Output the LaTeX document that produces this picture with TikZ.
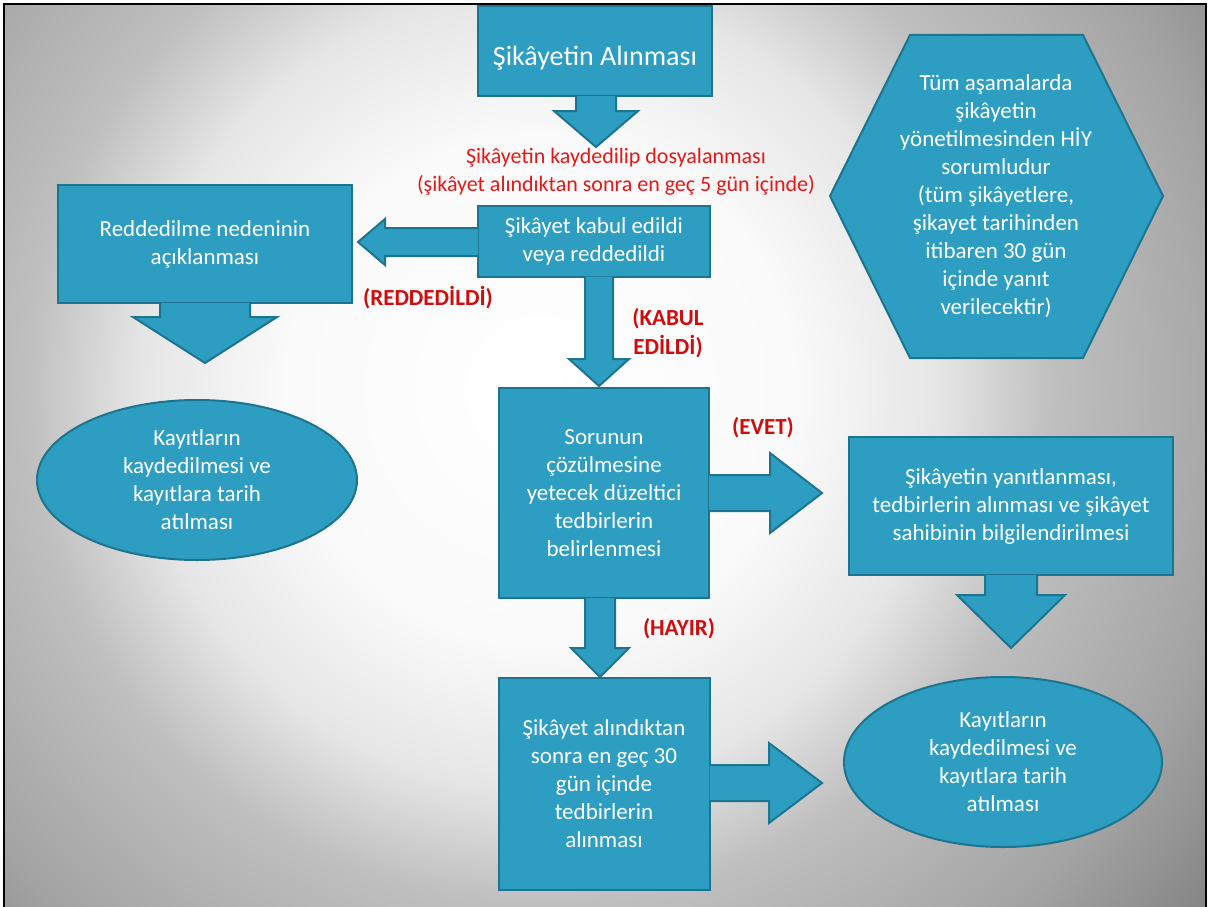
\documentclass[tikz,border=0pt]{standalone}
\usepackage{fontspec}
\setmainfont{Carlito}
\usetikzlibrary{shapes,calc}
\definecolor{shapefill}{RGB}{45,158,193}
\definecolor{shapeline}{RGB}{28,116,142}
\definecolor{notered}{RGB}{230,24,24}
\definecolor{choicered}{RGB}{208,12,12}
\tikzstyle{box} = [rectangle, draw=shapeline, fill=shapefill, line width=2pt, text=white, align=center, font=\fontsize{23}{28}\selectfont]
\tikzstyle{round} = [ellipse, draw=shapeline, fill=shapefill, line width=2pt, text=white, align=center, inner sep=0pt, font=\fontsize{23}{28}\selectfont]
\tikzstyle{line} = [draw=shapeline, fill=shapefill, line width=2pt]
\tikzstyle{note} = [text=notered, align=center, font=\fontsize{22}{28}\selectfont]
\tikzstyle{choice} = [text=choicered, align=center, font=\bfseries\fontsize{23}{29}\selectfont]
\pgfdeclarelayer{background}
\pgfsetlayers{background,main}
\pgfdeclareradialshading{slide}{\pgfpointorigin}{color(0bp)=(white); color(8bp)=(black!2); color(12.5bp)=(black!10); color(16bp)=(black!25); color(22bp)=(black!36); color(26bp)=(black!47); color(50bp)=(black!47)}

\begin{document}
\begin{tikzpicture}[x=1pt, y=-1pt]
	\useasboundingbox (0,0) rectangle (1210,907);

	\node [box, minimum width=234pt, minimum height=90pt, font=\fontsize{28}{34}\selectfont] (recv) at (595,51) {\raisebox{-7pt}[\height][\depth]{Şikâyetin Alınması}};
	\node [box, minimum width=232pt, minimum height=71pt] (decide) at (594,241) {Şikâyet kabul edildi\\veya reddedildi};
	\node [box, minimum width=294pt, minimum height=118pt] (reason) at (205,244) {Reddedilme nedeninin\\açıklanması};
	\node [round, minimum width=320pt, minimum height=160pt] (log1) at (197,480) {Kayıtların\\kaydedilmesi ve\\kayıtlara tarih\\atılması};
	\node [box, minimum width=210pt, minimum height=210pt] (solve) at (604,493) {Sorunun\\çözülmesine\\yetecek düzeltici\\tedbirlerin\\belirlenmesi};
	\node [box, minimum width=324pt, minimum height=138pt] (reply) at (1011,506) {Şikâyetin yanıtlanması,\\tedbirlerin alınması ve şikâyet\\sahibinin bilgilendirilmesi};
	\node [box, minimum width=211pt, minimum height=212pt] (act) at (604,784) {Şikâyet alındıktan\\sonra en geç 30\\gün içinde\\tedbirlerin\\alınması};
	\node [round, minimum width=318pt, minimum height=170pt] (log2) at (1003,762) {Kayıtların\\kaydedilmesi ve\\kayıtlara tarih\\atılması};

	\coordinate (hex) at (996,196);
	\path [line] (hex) ++(-86,-161) -- ++(173,0) -- ++(80,161) -- ++(-80,162) -- ++(-173,0) -- ++(-80,-162) -- cycle;
	\node [text=white, align=center, font=\fontsize{23}{28}\selectfont] (hiy) at (hex) {Tüm aşamalarda\\şikâyetin\\yönetilmesinden HİY\\sorumludur\\(tüm şikâyetlere,\\şikayet tarihinden\\itibaren 30 gün\\içinde yanıt\\verilecektir)};

	% arrow tips
	\coordinate (t1) at (596,147);
	\coordinate (t2) at (358,242);
	\coordinate (t3) at (599,386);
	\coordinate (t4) at (205,363);
	\coordinate (t5) at (822,493);
	\coordinate (t6) at (600,677);
	\coordinate (t7) at (1011,648);
	\coordinate (t8) at (822,783);

	\path [line] ($(recv.south -| t1)+(20,-1)$) |- ($(t1)+(42,-36)$) -- (t1) -- ($(t1)+(-42,-36)$) -| ($(recv.south -| t1)+(-20,-1)$);
	\path [line] ($(decide.west |- t2)+(1,-14)$) -| ($(t2)+(27,-23)$) -- (t2) -- ($(t2)+(27,23)$) |- ($(decide.west |- t2)+(1,14)$);
	\path [line] ($(decide.south -| t3)+(14,-1)$) |- ($(t3)+(30,-27)$) -- (t3) -- ($(t3)+(-30,-27)$) -| ($(decide.south -| t3)+(-14,-1)$);
	\path [line] ($(reason.south -| t4)+(45,-1)$) |- ($(t4)+(72,-46)$) -- (t4) -- ($(t4)+(-72,-46)$) -| ($(reason.south -| t4)+(-45,-1)$);
	\path [line] ($(solve.east |- t5)+(-1,-18)$) -| ($(t5)+(-52,-40)$) -- (t5) -- ($(t5)+(-52,40)$) |- ($(solve.east |- t5)+(-1,18)$);
	\path [line] ($(solve.south -| t6)+(15,-1)$) |- ($(t6)+(29,-29)$) -- (t6) -- ($(t6)+(-29,-29)$) -| ($(solve.south -| t6)+(-15,-1)$);
	\path [line] ($(reply.south -| t7)+(26,-1)$) |- ($(t7)+(54,-53)$) -- (t7) -- ($(t7)+(-54,-53)$) -| ($(reply.south -| t7)+(-26,-1)$);
	\path [line] ($(act.east |- t8)+(-1,-18)$) -| ($(t8)+(-53,-40)$) -- (t8) -- ($(t8)+(-53,40)$) |- ($(act.east |- t8)+(-1,18)$);

	\node [note] (file) at (616,172) {Şikâyetin kaydedilip dosyalanması\\(şikâyet alındıktan sonra en geç 5 gün içinde)};
	\node [choice] (no) at (428,298) {(REDDEDİLDİ)};
	\node [choice] (yes) at (668,333) {(KABUL\\EDİLDİ)};
	\node [choice] (evet) at (763,428) {(EVET)};
	\node [choice] (hayir) at (679,629) {(HAYIR)};

	\begin{pgfonlayer}{background}
		\begin{scope}
			\clip (5,5) rectangle (1205,907);
			\shade [shading=slide] (540,390) +(-800,-800) rectangle +(800,800);
		\end{scope}
		\draw [line width=1.5pt] (4,907) -- (4,4) -- (1206,4) -- (1206,907);
	\end{pgfonlayer}
\end{tikzpicture}
\end{document}
